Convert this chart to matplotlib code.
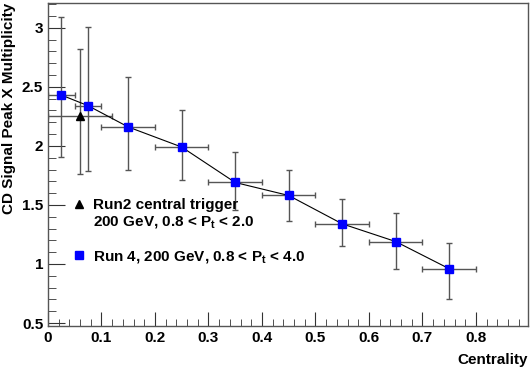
import matplotlib
matplotlib.use("Agg")
import matplotlib.pyplot as plt
from matplotlib.lines import Line2D
from matplotlib.ticker import MultipleLocator

plt.rcParams['font.family'] = ['Liberation Sans', 'DejaVu Sans']
plt.rcParams['font.weight'] = 'bold'
plt.rcParams['mathtext.fontset'] = 'custom'
plt.rcParams['mathtext.rm'] = 'Liberation Sans:bold'
plt.rcParams['mathtext.default'] = 'rm'

# Run 4, 200 GeV, 0.8 < Pt < 4.0
run4_x = [0.025, 0.075, 0.15, 0.25, 0.35, 0.45, 0.55, 0.65, 0.75]
run4_xerr = [0.025, 0.025, 0.05, 0.05, 0.05, 0.05, 0.05, 0.05, 0.05]
run4_y = [2.43, 2.34, 2.16, 1.99, 1.69, 1.58, 1.34, 1.19, 0.96]
run4_up = [3.09, 3.01, 2.58, 2.30, 1.95, 1.80, 1.55, 1.43, 1.18]
run4_lo = [1.91, 1.79, 1.80, 1.71, 1.46, 1.36, 1.15, 0.96, 0.70]

# Run2 central trigger
run2_x = [0.06]
run2_xerr = [0.06]
run2_y = [2.25]
run2_up = [2.82]
run2_lo = [1.76]

fig = plt.figure(figsize=(5.31, 3.69), dpi=100)
ax = fig.add_axes([0.0904, 0.1165, 0.9036, 0.8755])

err_col = '#555555'
yerr4 = [[y - l for y, l in zip(run4_y, run4_lo)], [u - y for y, u in zip(run4_y, run4_up)]]
yerr2 = [[y - l for y, l in zip(run2_y, run2_lo)], [u - y for y, u in zip(run2_y, run2_up)]]

ax.errorbar(run2_x, run2_y, xerr=run2_xerr, yerr=yerr2, fmt='none',
            ecolor=err_col, elinewidth=1, capsize=2, capthick=1, zorder=2)
ax.plot(run2_x, run2_y, '^', color='black', markersize=6, zorder=4)

ax.errorbar(run4_x, run4_y, xerr=run4_xerr, yerr=yerr4, fmt='none',
            ecolor=err_col, elinewidth=1, capsize=2, capthick=1, zorder=2)
ax.plot(run4_x, run4_y, '-', color='black', linewidth=0.8, zorder=3)
ax.plot(run4_x, run4_y, 's', color='#0000ff', markersize=6, zorder=4)

ax.set_xlim(0, 0.897)
ax.set_ylim(0.475, 3.21)
ax.xaxis.set_major_locator(MultipleLocator(0.1))
ax.xaxis.set_minor_locator(MultipleLocator(0.02))
ax.yaxis.set_major_locator(MultipleLocator(0.5))
ax.yaxis.set_minor_locator(MultipleLocator(0.1))
ax.tick_params(which='both', direction='in', top=False, right=False,
               colors='#333333', labelcolor='black', labelsize=11)
ax.tick_params(axis='y', which='major', length=12)
ax.tick_params(axis='y', which='minor', length=6)
ax.tick_params(axis='x', which='major', length=10)
ax.tick_params(axis='x', which='minor', length=5)
ax.xaxis.set_major_formatter(plt.FuncFormatter(lambda v, p: '0' if abs(v) < 1e-9 else f'{v:g}'))
ax.yaxis.set_major_formatter(plt.FuncFormatter(lambda v, p: f'{v:g}'))
for s in ax.spines.values():
    s.set_color('#555555')
    s.set_linewidth(1)

ax.set_xlabel('Centrality', fontsize=11, fontweight='bold', loc='right', labelpad=6)
ax.set_ylabel('CD Signal Peak X Multiplicity', fontsize=11, fontweight='bold', loc='top')

handles = [
    Line2D([], [], marker='^', color='black', linestyle='none', markersize=6),
    Line2D([], [], linestyle='none'),
    Line2D([], [], linestyle='none'),
    Line2D([], [], marker='s', color='#0000ff', linestyle='none', markersize=6),
]
labels = ['Run2 central trigger', '200 GeV, 0.8 < P$_{t}$ < 2.0', '',
          'Run 4, 200 GeV, 0.8 < P$_{t}$ < 4.0']
ax.legend(handles, labels, loc='upper left', bbox_to_anchor=(0.04, 0.42),
          frameon=False, fontsize=11, handlelength=0.6, handletextpad=0.6,
          labelspacing=0.15, borderpad=0)

fig.savefig('out.png', dpi=100)
